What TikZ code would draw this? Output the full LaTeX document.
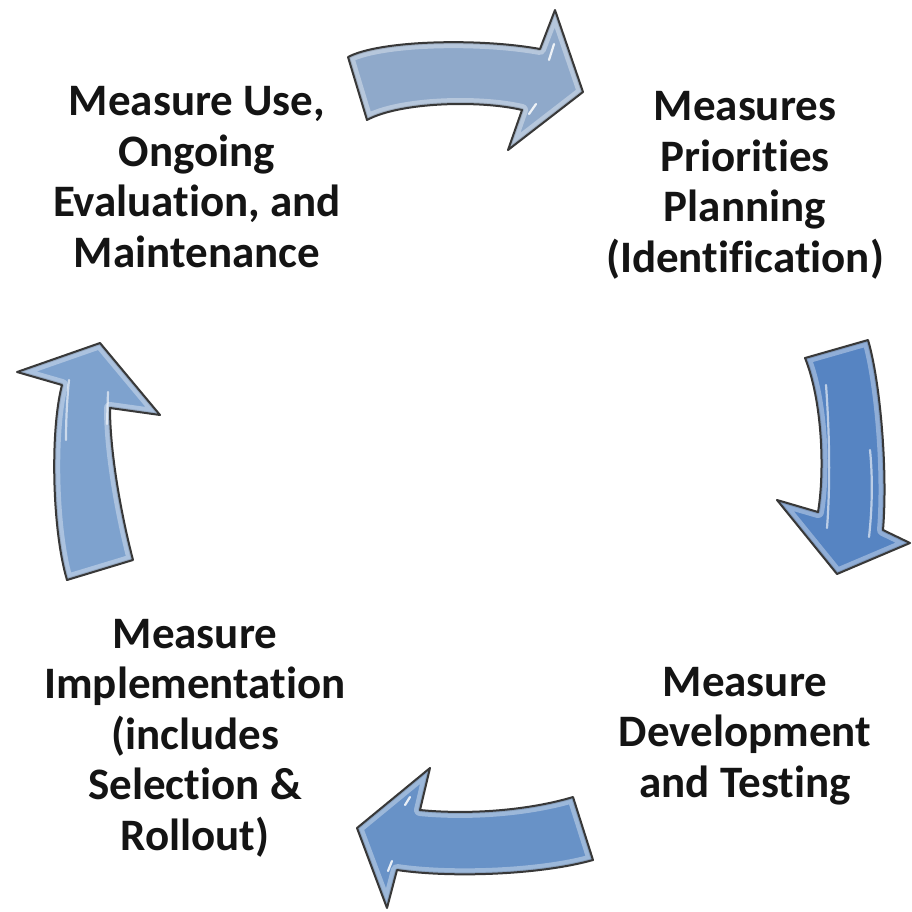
\documentclass[tikz,border=0pt]{standalone}
\usepackage{fontspec}
\setmainfont{Carlito}[Ligatures=NoCommon]
\begin{document}
\begin{tikzpicture}[x=1pt,y=-1pt,
  stage/.style={font=\fontsize{45}{50.5}\selectfont\bfseries, align=center,
    text=black!92, inner sep=0pt, anchor=base},
  outline/.style={draw=black!78, line width=2pt, line join=round},
  glint/.style={white, line width=2.2pt, line cap=round, opacity=0.85}]

\useasboundingbox (0,0) rectangle (912,911);
\fill[white] (0,0) rectangle (912,911);

\definecolor{arrA}{RGB}{143,169,202}
\definecolor{arrB}{RGB}{86,132,194}
\definecolor{arrC}{RGB}{104,146,199}
\definecolor{arrD}{RGB}{126,162,206}

% curved block arrows, one per step of the cycle
\def\arrowtop{(348,57) .. controls (380,40) and (480,38) .. (540,49)
  -- (555,10) -- (583,92) -- (508,150) -- (522,110)
  .. controls (480,100) and (400,102) .. (367,120) -- cycle}
\def\arrowright{(805,358) -- (868,340) .. controls (880,380) and (888,470) .. (883,530)
  -- (910,543) -- (837,574) -- (777,500) -- (818,512)
  .. controls (825,470) and (822,400) .. cycle}
\def\arrowbottom{(573,797) .. controls (530,810) and (470,815) .. (420,810)
  -- (430,768) -- (357,828) -- (387,908) -- (397,870)
  .. controls (450,878) and (540,875) .. (593,860) -- cycle}
\def\arrowleft{(67,580) -- (133,560) .. controls (120,510) and (110,450) .. (110,408)
  -- (160,415) -- (100,343) -- (17,372) -- (62,385)
  .. controls (50,430) and (52,530) .. cycle}

\foreach \shp/\col in {\arrowtop/arrA,\arrowright/arrB,\arrowbottom/arrC,\arrowleft/arrD}{
  \fill[\col] \shp;
  \begin{scope}
    \clip \shp;
    \draw[white, opacity=0.35, line width=12pt, line join=round] \shp;
    \draw[black, opacity=0.12, line width=4pt, line join=round] \shp;
  \end{scope}
  \draw[outline] \shp;
}

% glossy highlights
\draw[glint] (549,60) -- (554,44);
\draw[glint] (529,114) -- (536,104);
\draw[glint, opacity=0.6] (826,385) .. controls (830,440) and (830,490) .. (827,528);
\draw[glint, opacity=0.6] (870,450) .. controls (873,480) and (872,510) .. (869,537);
\draw[glint, opacity=0.6] (69,380) .. controls (67,400) and (66,420) .. (66,440);
\draw[glint, opacity=0.6] (108,392) -- (107,424);
\draw[glint] (405,805) -- (410,797);
\draw[glint] (388,871) -- (392,861);

% stage labels (anchored at the baseline of the last line)
\node[stage] (use) at (197,267)
  {Measure Use,\\Ongoing\\Evaluation, and\\Maintenance};
\node[stage] (plan) at (745,272)
  {Measures\\Priorities\\Planning\\(Identification)};
\node[stage] (dev) at (745,797)
  {Measure\\Development\\and Testing};
\node[stage] (impl) at (195,850)
  {Measure\\Implementation\\(includes\\Selection \&\\Rollout)};
\end{tikzpicture}
\end{document}
